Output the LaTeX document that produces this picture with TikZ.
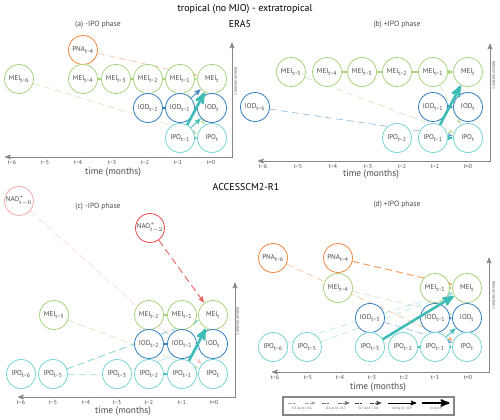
\documentclass[tikz,border=0pt]{standalone}
\usepackage{fontspec}
\setmainfont{PT Sans}
\newfontfamily\relfont{DejaVu Sans}
\usepackage{xcolor}
\usepackage{tikz}
\usetikzlibrary{arrows, positioning, backgrounds}

\definecolor{meigreen}{RGB}{170,212,128}
\definecolor{iodblue}{RGB}{55,128,192}
\definecolor{ipoteal}{RGB}{122,212,210}
\definecolor{ipodark}{RGB}{62,188,182}
\definecolor{pnaorange}{RGB}{242,138,66}
\definecolor{naored}{RGB}{232,78,78}
\definecolor{naopink}{RGB}{244,172,172}
\definecolor{labelgray}{RGB}{75,75,75}
\definecolor{axisgray}{RGB}{135,135,135}

\newcommand{\tlag}[2]{#1\textsubscript{t−#2}}
\newcommand{\tnow}[1]{#1\textsubscript{t}}
\newcommand{\naolag}[1]{NAO$^{*}_{\mathrm{t}-#1}$}
\newcommand{\leqsign}{{\relfont ≤}}
\newcommand{\geqsign}{{\relfont ≥}}

\begin{document}
\begin{tikzpicture}[x=0.03cm, y=-0.03cm,
				>=stealth',
				shorten >=0.5pt,
				var/.style={circle, draw, fill=white, line width=0.7pt, minimum size=0.87cm, inner sep=0pt, text=labelgray, font=\fontsize{6}{7}\selectfont},
				mei/.style={var, draw=meigreen},
				iod/.style={var, draw=iodblue},
				ipo/.style={var, draw=ipoteal},
				pna/.style={var, draw=pnaorange},
				nao/.style={var, draw=naored},
				naofaint/.style={var, draw=naopink},
				lagged/.style={dash pattern=on 6pt off 3.5pt},
				weak/.style={line width=0.6pt, opacity=0.5},
				mid/.style={line width=0.9pt, opacity=0.8},
				strong/.style={line width=1.3pt},
				vstrong/.style={line width=2.2pt},
				timeaxis/.style={<->, axisgray, line width=0.8pt},
				ticklabel/.style={font=\fontsize{5}{6}\selectfont, text=labelgray, inner sep=1pt},
				panel/.style={font=\fontsize{6.5}{8}\selectfont, text=labelgray},
				heading/.style={font=\fontsize{8.5}{10}\selectfont},
				timelabel/.style={font=\fontsize{8}{9}\selectfont, text=labelgray},
				tele/.style={rotate=-90, font=\fontsize{3.5}{4}\selectfont, text=labelgray},
				keylabel/.style={font=\fontsize{2.8}{3.2}\selectfont, text=labelgray, inner sep=0pt}]
	\useasboundingbox (0,0) rectangle (500,420);

	% headings
	\node at (245,9) (title) [heading] {tropical (no MJO) - extratropical};
	\node at (240,24) (era) [heading] {ERA5};
	\node at (246,187) (access) [heading] {ACCESSCM2-R1};

	% (a) ERA5, -IPO
	\node at (98,25) (a-title) [panel] {(a) -IPO phase};
	\coordinate (a-left) at (5,157);
	\coordinate (a-corner) at (232,157);
	\coordinate (a-top) at (232,42);
	\draw[timeaxis] (a-left) -- (a-corner) -- (a-top);
	\foreach \x/\t in {12/t−6,45/t−5,78/t−4,112/t−3,145/t−2,178/t−1,211/t=0}
		\draw[axisgray, line width=0.5pt] (\x,157) -- (\x,159) node[below, ticklabel] {\t};
	\node at (113,172) (a-time) [timelabel] {time (months)};
	\node at (236,81) (a-tele) [tele] {teleconnections};
	\node at (83,50) (a-pna4) [pna] {\tlag{PNA}{4}};
	\node at (19,79) (a-mei6) [mei] {\tlag{MEI}{6}};
	\node at (83,79) (a-mei4) [mei] {\tlag{MEI}{4}};
	\node at (116,79) (a-mei3) [mei] {\tlag{MEI}{3}};
	\node at (148,79) (a-mei2) [mei] {\tlag{MEI}{2}};
	\node at (180,79) (a-mei1) [mei] {\tlag{MEI}{1}};
	\node at (212,79) (a-mei0) [mei] {\tnow{MEI}};
	\node at (148,108) (a-iod2) [iod] {\tlag{IOD}{2}};
	\node at (180,108) (a-iod1) [iod] {\tlag{IOD}{1}};
	\node at (212,108) (a-iod0) [iod] {\tnow{IOD}};
	\node at (180,138) (a-ipo1) [ipo] {\tlag{IPO}{1}};
	\node at (212,138) (a-ipo0) [ipo] {\tnow{IPO}};

	% (b) ERA5, +IPO
	\node at (397,25) (b-title) [panel] {(b) +IPO phase};
	\coordinate (b-left) at (258,161);
	\coordinate (b-corner) at (490,161);
	\coordinate (b-top) at (490,43);
	\draw[timeaxis] (b-left) -- (b-corner) -- (b-top);
	\foreach \x/\t in {263/t−6,298/t−5,333/t−4,368/t−3,402/t−2,435/t−1,468/t=0}
		\draw[axisgray, line width=0.5pt] (\x,161) -- (\x,163) node[below, ticklabel] {\t};
	\node at (371,174) (b-time) [timelabel] {time (months)};
	\node at (494,75) (b-tele) [tele] {teleconnections};
	\node at (291,72) (b-mei5) [mei] {\tlag{MEI}{5}};
	\node at (327,72) (b-mei4) [mei] {\tlag{MEI}{4}};
	\node at (362,72) (b-mei3) [mei] {\tlag{MEI}{3}};
	\node at (397,72) (b-mei2) [mei] {\tlag{MEI}{2}};
	\node at (433,72) (b-mei1) [mei] {\tlag{MEI}{1}};
	\node at (468,72) (b-mei0) [mei] {\tnow{MEI}};
	\node at (255,107) (b-iod6) [iod] {\tlag{IOD}{6}};
	\node at (433,107) (b-iod1) [iod] {\tlag{IOD}{1}};
	\node at (468,107) (b-iod0) [iod] {\tnow{IOD}};
	\node at (397,138) (b-ipo2) [ipo] {\tlag{IPO}{2}};
	\node at (433,138) (b-ipo1) [ipo] {\tlag{IPO}{1}};
	\node at (468,138) (b-ipo0) [ipo] {\tnow{IPO}};

	% (c) ACCESS, -IPO
	\node at (98,207) (c-title) [panel] {(c) -IPO phase};
	\coordinate (c-left) at (18,397);
	\coordinate (c-corner) at (235,397);
	\coordinate (c-top) at (235,282);
	\draw[timeaxis] (c-left) -- (c-corner) -- (c-top);
	\foreach \x/\t in {21/t−6,53/t−5,86/t−4,117/t−3,149/t−2,182/t−1,214/t=0}
		\draw[axisgray, line width=0.5pt] (\x,397) -- (\x,399) node[below, ticklabel] {\t};
	\node at (123,411) (c-time) [timelabel] {time (months)};
	\node at (238,321) (c-tele) [tele] {teleconnections};
	\node at (19,201) (c-nao6) [naofaint] {\naolag{6}};
	\node at (150,228) (c-nao2) [nao] {\naolag{2}};
	\node at (54,315) (c-mei5) [mei] {\tlag{MEI}{5}};
	\node at (149,315) (c-mei2) [mei] {\tlag{MEI}{2}};
	\node at (182,315) (c-mei1) [mei] {\tlag{MEI}{1}};
	\node at (213,315) (c-mei0) [mei] {\tnow{MEI}};
	\node at (149,344) (c-iod2) [iod] {\tlag{IOD}{2}};
	\node at (182,344) (c-iod1) [iod] {\tlag{IOD}{1}};
	\node at (213,344) (c-iod0) [iod] {\tnow{IOD}};
	\node at (21,374) (c-ipo6) [ipo] {\tlag{IPO}{6}};
	\node at (53,374) (c-ipo5) [ipo] {\tlag{IPO}{5}};
	\node at (117,374) (c-ipo3) [ipo] {\tlag{IPO}{3}};
	\node at (149,374) (c-ipo2) [ipo] {\tlag{IPO}{2}};
	\node at (182,374) (c-ipo1) [ipo] {\tlag{IPO}{1}};
	\node at (213,374) (c-ipo0) [ipo] {\tnow{IPO}};

	% (d) ACCESS, +IPO
	\node at (397,205) (d-title) [panel] {(d) +IPO phase};
	\coordinate (d-left) at (272,372);
	\coordinate (d-corner) at (489,372);
	\coordinate (d-top) at (489,257);
	\draw[timeaxis] (d-left) -- (d-corner) -- (d-top);
	\foreach \x/\t in {275/t−6,308/t−5,340/t−4,372/t−3,404/t−2,435/t−1,468/t=0}
		\draw[axisgray, line width=0.5pt] (\x,372) -- (\x,374) node[below, ticklabel] {\t};
	\node at (378,387) (d-time) [timelabel] {time (months)};
	\node at (494,295) (d-tele) [tele] {teleconnections};
	\node at (273,258) (d-pna6) [pna] {\tlag{PNA}{6}};
	\node at (338,258) (d-pna4) [pna] {\tlag{PNA}{4}};
	\node at (338,288) (d-mei4) [mei] {\tlag{MEI}{4}};
	\node at (435,288) (d-mei1) [mei] {\tlag{MEI}{1}};
	\node at (467,288) (d-mei0) [mei] {\tnow{MEI}};
	\node at (370,318) (d-iod3) [iod] {\tlag{IOD}{3}};
	\node at (435,318) (d-iod1) [iod] {\tlag{IOD}{1}};
	\node at (467,318) (d-iod0) [iod] {\tnow{IOD}};
	\node at (273,347) (d-ipo6) [ipo] {\tlag{IPO}{6}};
	\node at (307,347) (d-ipo5) [ipo] {\tlag{IPO}{5}};
	\node at (370,347) (d-ipo3) [ipo] {\tlag{IPO}{3}};
	\node at (403,347) (d-ipo2) [ipo] {\tlag{IPO}{2}};
	\node at (435,347) (d-ipo1) [ipo] {\tlag{IPO}{1}};
	\node at (467,347) (d-ipo0) [ipo] {\tnow{IPO}};

	% links behind the circles
	\begin{pgfonlayer}{background}
		\draw[->, weak, lagged, pnaorange] (a-pna4) -- (a-mei0);
		\draw[->, weak, lagged, meigreen] (a-mei6) -- (a-ipo0);
		\draw[strong, meigreen] (a-mei4) -- (a-mei3);
		\draw[strong, meigreen] (a-mei3) -- (a-mei2);
		\draw[strong, meigreen] (a-mei2) -- (a-mei1);
		\draw[->, strong, meigreen] (a-mei1) -- (a-mei0);
		\draw[strong, iodblue] (a-iod2) -- (a-iod1);
		\draw[->, strong, iodblue] (a-iod1) -- (a-iod0);
		\draw[->, strong, ipodark] (a-ipo1) -- (a-ipo0);
		\draw[->, mid, iodblue] (a-iod1) -- (a-mei0);
		\draw[->, weak, meigreen] (a-mei1) -- (a-ipo0);

		\draw[->, weak, lagged, meigreen] (b-mei5) -- (b-ipo0);
		\draw[->, weak, lagged, meigreen] (b-mei1) -- (b-ipo0);
		\draw[->, weak, lagged, iodblue] (b-iod6) -- (b-ipo0);
		\draw[strong, meigreen] (b-mei4) -- (b-mei3);
		\draw[strong, meigreen] (b-mei3) -- (b-mei2);
		\draw[strong, meigreen] (b-mei2) -- (b-mei1);
		\draw[->, strong, meigreen] (b-mei1) -- (b-mei0);
		\draw[->, strong, iodblue] (b-iod1) -- (b-iod0);
		\draw[->, strong, ipodark] (b-ipo1) -- (b-ipo0);

		\draw[->, weak, lagged, naopink] (c-nao6) -- (c-ipo0);
		\draw[->, mid, lagged, naored] (c-nao2) -- (c-mei0);
		\draw[->, weak, lagged, meigreen] (c-mei5) -- (c-ipo0);
		\draw[->, mid, lagged, ipoteal] (c-ipo5) -- (c-mei0);
		\draw[->, weak, lagged, ipoteal] (c-ipo5) -- (c-ipo0);
		\draw[->, weak, ipoteal] (c-ipo3) -- (c-iod0);
		\draw[strong, meigreen] (c-mei2) -- (c-mei1);
		\draw[->, strong, meigreen] (c-mei1) -- (c-mei0);
		\draw[strong, iodblue] (c-iod2) -- (c-iod1);
		\draw[->, strong, iodblue] (c-iod1) -- (c-iod0);
		\draw[strong, ipodark] (c-ipo2) -- (c-ipo1);
		\draw[->, strong, ipodark] (c-ipo1) -- (c-ipo0);

		\draw[->, weak, lagged, pnaorange] (d-pna6) -- (d-ipo0);
		\draw[->, mid, lagged, pnaorange] (d-pna4) -- (d-mei0);
		\draw[->, weak, lagged, meigreen] (d-mei4) -- (d-iod0);
		\draw[->, weak, lagged, ipoteal] (d-ipo6) -- (d-mei0);
		\draw[->, weak, lagged, ipoteal] (d-ipo5) -- (d-mei0);
		\draw[->, weak, lagged, iodblue] (d-iod3) -- (d-ipo0);
		\draw[->, strong, meigreen] (d-mei1) -- (d-mei0);
		\draw[->, strong, iodblue] (d-iod1) -- (d-iod0);
		\draw[strong, ipodark] (d-ipo2) -- (d-ipo1);
		\draw[->, strong, ipodark] (d-ipo1) -- (d-ipo0);
		\draw[->, mid, ipodark] (d-ipo1) -- (d-iod0);
	\end{pgfonlayer}

	% strongest links on top
	\draw[->, vstrong, ipodark] (a-ipo1) -- (a-mei0);
	\draw[->, mid, ipodark] (a-ipo1) -- (a-iod0);
	\draw[->, vstrong, ipodark] (b-ipo1) -- (b-mei0);
	\draw[->, vstrong, ipodark] (c-ipo1) -- (c-mei0);
	\draw[->, vstrong, ipodark] (d-ipo3) -- (d-mei0);

	% legend
	\draw[axisgray, line width=1pt] (283,397) rectangle (454,415);
	\foreach \xa/\xb/\xc/\xd/\shade/\lw/\lo/\hi in {288/297/305/316/35/0.35/0.5/0.6,
			322/330/338/350/55/0.5/0.6/0.7,
			355/363/370/382/75/0.65/0.7/0.8}{
		\draw[black!\shade, line width=\lw pt, dash pattern=on 3pt off 1.5pt] (\xa,403) -- (\xb,403);
		\draw[->, black!\shade, line width=\lw pt, dash pattern=on 3pt off 1.5pt] (\xc,403) -- (\xd,403);
		\node at ({(\xa+\xd)/2},408.5) [keylabel] {\lo{} \leqsign{} |r| < \hi};
	}
	\draw[->, black, line width=0.8pt] (388,403) -- (417,403);
	\node at (402,408.5) [keylabel] {0.8 \leqsign{} |r| < 0.9};
	\draw[->, black, line width=1.6pt] (422,403) -- (450,403);
	\node at (436,408.5) [keylabel] {|r| \geqsign{} 0.9};
\end{tikzpicture}
\end{document}
